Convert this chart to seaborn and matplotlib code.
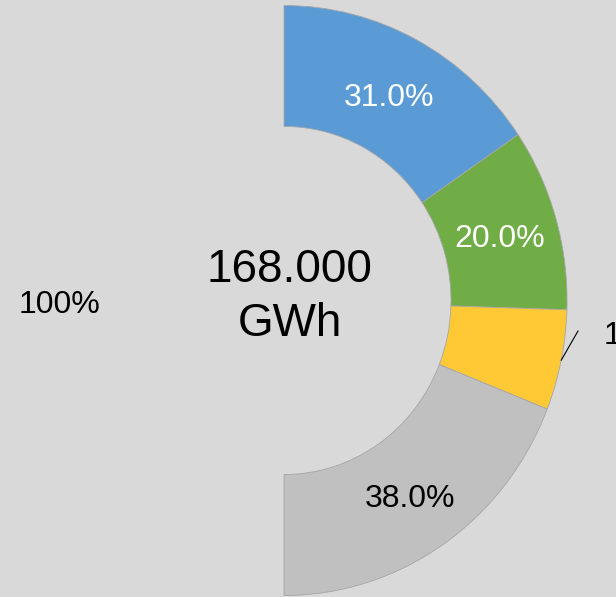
import numpy as np
import seaborn as sns
import matplotlib.pyplot as plt

# chart data
segments = ["A", "B", "C", "D"]
shares = [31.0, 20.0, 11.0, 38.0]
hidden_share = 100.0
hidden_label = "100%"
total_label = "168.000\nGWh"
colors = ["#5B9BD5", "#70AD47", "#FFC936", "#C0C0C0"]
label_colors = ["white", "white", "black", "black"]

sns.set_theme(style="white", rc={"figure.facecolor": "#D9D9D9",
                                 "axes.facecolor": "#D9D9D9"})
plt.rcParams["font.family"] = ["Liberation Sans", "DejaVu Sans"]

fig = plt.figure(figsize=(6.16, 5.97), dpi=100)
ax = fig.add_axes([0, 0, 1, 1])

values = shares + [hidden_share]
wedges, _ = ax.pie(values, startangle=90, counterclock=False,
                   colors=colors + ["none"],
                   wedgeprops=dict(width=0.41, edgecolor="#A6A6A6", linewidth=0.6))
wedges[-1].set_edgecolor("none")

# slightly stretched like the original
ax.set_aspect("auto")
ax.set_xlim(-1.0035, 1.173)
ax.set_ylim(-1.005, 1.0186)
ax.axis("off")

r_lab = 0.795
dy = -0.015  # baseline nudge
for w, s, c in zip(wedges[:-1], shares, label_colors):
    mid = np.deg2rad((w.theta1 + w.theta2) / 2)
    txt = f"{s:.1f}%"
    if s < 15:
        x0, y0 = np.cos(mid), np.sin(mid)
        ax.plot([x0, 1.039], [y0, -0.103], color="black", lw=0.8)
        ax.text(1.13, -0.107 + dy, txt, ha="left", va="center", fontsize=23, color="black")
    else:
        ax.text(r_lab * np.cos(mid), r_lab * np.sin(mid) + dy, txt,
                ha="center", va="center", fontsize=23, color=c)

hw = wedges[-1]
mid = np.deg2rad((hw.theta1 + hw.theta2) / 2)
ax.text(r_lab * np.cos(mid), r_lab * np.sin(mid) + dy, hidden_label,
        ha="center", va="center", fontsize=23, color="black")

ax.text(0.02, 0.012, total_label, ha="center", va="center", fontsize=33,
        color="black", linespacing=1.28)

fig.savefig("out.png", dpi=100, facecolor=fig.get_facecolor())
